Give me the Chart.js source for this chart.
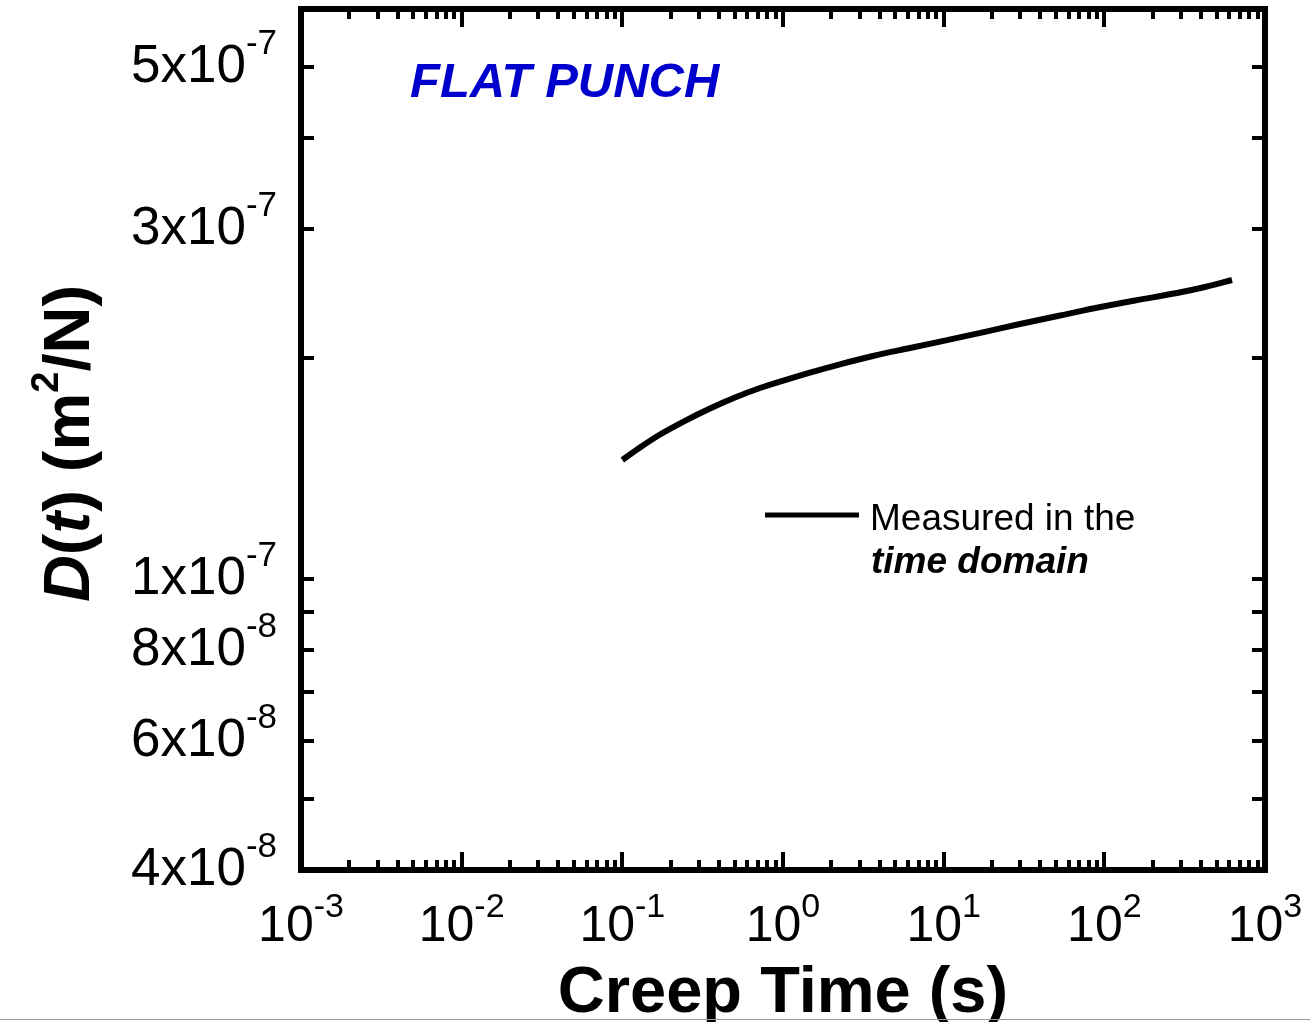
<!DOCTYPE html>
<html>
<head>
<meta charset="utf-8">
<script src="https://cdn.jsdelivr.net/npm/chart.js@4"></script>
<style>
    html, body { margin: 0; padding: 0; background: #fff; }
    #wrap { width: 1310px; height: 1022px; }
</style>
</head>
<body>
<div id="wrap"><canvas id="chart" width="1310" height="1022"></canvas></div>
<script>
(function () {
    "use strict";

    // Creep time (s) and creep compliance D(t) (m^2/N)
    const creepTime = [
        0.1, 0.1288, 0.1716, 0.2455, 0.3512, 0.5026, 0.7192, 1.029, 1.472, 2.263,
        3.633, 6.173, 10.49, 18.08, 29.87, 52.99, 85.0, 155.2, 283.4, 423.2, 623.3,
    ];
    const compliance = [
        1.4527e-7, 1.5106e-7, 1.5735e-7, 1.643e-7, 1.7078e-7, 1.7678e-7, 1.8215e-7,
        1.8678e-7, 1.9122e-7, 1.9627e-7, 2.0144e-7, 2.0655e-7, 2.118e-7, 2.1733e-7,
        2.2275e-7, 2.2878e-7, 2.3389e-7, 2.3988e-7, 2.4556e-7, 2.5024e-7, 2.5583e-7,
    ];

    // Ticks
    const xMajorTicks = [1e-3, 1e-2, 1e-1, 1e0, 1e1, 1e2, 1e3];
    const xTickExponents = ["-3", "-2", "-1", "0", "1", "2", "3"];
    const yLabelTicks = [5e-7, 3e-7, 1e-7, 8e-8, 6e-8, 4e-8];
    const yTickMantissas = ["5", "3", "1", "8", "6", "4"];
    const yTickExponents = ["-7", "-7", "-7", "-8", "-8", "-8"];
    const yMinorTicks = [4e-7, 2e-7, 9e-8, 7e-8, 5e-8];

    const FONT = "'Liberation Sans', Arial, Helvetica, sans-serif";

    function supLabel(ctx, base, sup, baseFont, supFont, x, baseY, supY, align) {
        ctx.font = baseFont;
        const wb = ctx.measureText(base).width;
        ctx.font = supFont;
        const ws = ctx.measureText(sup).width;
        const total = wb + ws;
        let x0 = x;
        if (align === "right") x0 = x - total;
        if (align === "center") x0 = x - total / 2;
        ctx.textAlign = "left";
        ctx.textBaseline = "alphabetic";
        ctx.font = baseFont;
        ctx.fillText(base, x0, baseY);
        ctx.font = supFont;
        ctx.fillText(sup, x0 + wb, supY);
    }

    const framePlugin = {
        id: "frame",
        afterDraw(chart) {
            const ctx = chart.ctx;
            const a = chart.chartArea;
            const xs = chart.scales.x;
            const ys = chart.scales.y;
            ctx.save();
            ctx.fillStyle = "#000";
            ctx.strokeStyle = "#000";

            // frame
            ctx.lineWidth = 6;
            ctx.strokeRect(a.left, a.top, a.right - a.left, a.bottom - a.top);

            // x ticks (bottom and top, inside)
            ctx.lineWidth = 4;
            ctx.lineCap = "butt";
            const xTick = (v, len) => {
                const px = Math.round(xs.getPixelForValue(v));
                ctx.beginPath();
                ctx.moveTo(px, a.bottom);
                ctx.lineTo(px, a.bottom - len);
                ctx.moveTo(px, a.top);
                ctx.lineTo(px, a.top + len);
                ctx.stroke();
            };
            xMajorTicks.forEach((v, i) => {
                xTick(v, 18);
                if (i < xMajorTicks.length - 1) {
                    for (let m = 2; m <= 9; m++) xTick(v * m, 10);
                }
            });

            // y ticks (left and right, inside)
            const yTick = (v, len) => {
                const py = Math.round(ys.getPixelForValue(v));
                ctx.beginPath();
                ctx.moveTo(a.left, py);
                ctx.lineTo(a.left + len, py);
                ctx.moveTo(a.right, py);
                ctx.lineTo(a.right - len, py);
                ctx.stroke();
            };
            yLabelTicks.forEach((v) => yTick(v, 13));
            yMinorTicks.forEach((v) => yTick(v, 13));

            // x tick labels
            xMajorTicks.forEach((v, i) => {
                const px = xs.getPixelForValue(v);
                supLabel(ctx, "10", xTickExponents[i], "50px " + FONT, "34px " + FONT,
                    px, a.bottom + 71, a.bottom + 47, "center");
            });

            // y tick labels
            yLabelTicks.forEach((v, i) => {
                const py = ys.getPixelForValue(v);
                supLabel(ctx, yTickMantissas[i] + "x10", yTickExponents[i],
                    "53px " + FONT, "35px " + FONT, 277, py + 15, py - 13, "right");
            });

            // x axis title
            ctx.font = "bold 65px " + FONT;
            ctx.textAlign = "center";
            ctx.textBaseline = "alphabetic";
            ctx.fillText("Creep Time (s)", (a.left + a.right) / 2, 1012);

            // y axis title, rotated, with italic D, t and superscript 2
            const runs = [
                ["D", "italic bold 65px " + FONT, 0],
                ["(", "bold 65px " + FONT, 0],
                ["t", "italic bold 65px " + FONT, 0],
                [") (m", "bold 65px " + FONT, 0],
                ["2", "bold 38px " + FONT, -31],
                ["/N)", "bold 65px " + FONT, 0],
            ];
            let total = 0;
            runs.forEach((r) => {
                ctx.font = r[1];
                total += ctx.measureText(r[0]).width;
            });
            ctx.save();
            ctx.translate(89, (a.top + a.bottom) / 2 + 4);
            ctx.rotate(-Math.PI / 2);
            ctx.textAlign = "left";
            let cx = -total / 2;
            runs.forEach((r) => {
                ctx.font = r[1];
                ctx.fillText(r[0], cx, r[2]);
                cx += ctx.measureText(r[0]).width;
            });
            ctx.restore();

            // annotation
            ctx.fillStyle = "#0000cc";
            ctx.font = "italic bold 49px " + FONT;
            ctx.textAlign = "left";
            ctx.fillText("FLAT PUNCH", 410, 97);

            // legend
            ctx.fillStyle = "#000";
            ctx.lineWidth = 5;
            ctx.beginPath();
            ctx.moveTo(765, 515);
            ctx.lineTo(859, 515);
            ctx.stroke();
            ctx.font = "37px " + FONT;
            ctx.fillText("Measured in the", 870, 530);
            ctx.font = "italic bold 37px " + FONT;
            ctx.fillText("time domain", 871, 573);

            // thin page edge line at the bottom
            ctx.strokeStyle = "#999";
            ctx.lineWidth = 1;
            ctx.beginPath();
            ctx.moveTo(0, 1019.5);
            ctx.lineTo(chart.width, 1019.5);
            ctx.stroke();

            ctx.restore();
        },
    };

    const ctx = document.getElementById("chart").getContext("2d");
    new Chart(ctx, {
        type: "line",
        data: {
            datasets: [
                {
                    label: "Measured in the time domain",
                    data: creepTime.map((t, i) => ({ x: t, y: compliance[i] })),
                    borderColor: "#000",
                    borderWidth: 6,
                    pointRadius: 0,
                    fill: false,
                    cubicInterpolationMode: "monotone",
                },
            ],
        },
        options: {
            responsive: false,
            animation: false,
            devicePixelRatio: 1,
            layout: { padding: { left: 0, right: 45, top: 9, bottom: 0 } },
            plugins: {
                legend: { display: false },
                tooltip: { enabled: false },
            },
            scales: {
                x: {
                    type: "logarithmic",
                    min: 1e-3,
                    max: 1e3,
                    ticks: { display: false },
                    grid: { display: false },
                    border: { display: false },
                    afterFit: (s) => { s.height = 152; },
                },
                y: {
                    type: "logarithmic",
                    min: 4e-8,
                    max: 6e-7,
                    ticks: { display: false },
                    grid: { display: false },
                    border: { display: false },
                    afterFit: (s) => { s.width = 301; },
                },
            },
        },
        plugins: [framePlugin],
    });
})();
</script>
</body>
</html>
